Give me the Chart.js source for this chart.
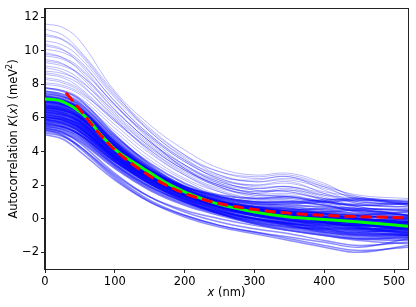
<!DOCTYPE html>
<html>
<head>
<meta charset="utf-8">
<script src="https://cdn.jsdelivr.net/npm/chart.js@4"></script>
<style>
  html, body { margin: 0; padding: 0; background: #fff; }
  #wrap { width: 416px; height: 307px; }
</style>
</head>
<body>
<div id="wrap"><canvas id="grafico" width="416" height="307"></canvas></div>
<script>
// x positions (nm) where the blue curves are sampled
var xs = [0, 25, 50, 100, 150, 200, 250, 300, 350, 400, 450, 520];

// curves that start high (light, sparse)
var upperCurves = [
  [11.6, 11.4, 10.6, 7.6, 5.6, 4.1, 3.0, 2.6, 2.7, 2.1, 1.2, 1.1],
  [11.3, 10.95, 10.0, 7.5, 5.2, 3.7, 2.8, 2.5, 2.6, 2.0, 1.3, 0.9],
  [11.0, 10.7, 9.9, 7.4, 5.4, 3.8, 2.6, 2.2, 2.4, 1.9, 1.4, 1.2],
  [10.6, 10.35, 9.6, 7.2, 5.2, 3.6, 2.5, 2.3, 2.5, 1.7, 1.0, 1.0],
  [10.4, 10.1, 9.2, 6.8, 4.9, 3.4, 2.4, 2.0, 2.1, 1.6, 1.3, 0.8],
  [10.1, 9.9, 9.3, 7.0, 5.0, 3.5, 2.3, 1.7, 1.6, 1.2, 1.1, 1.0],
  [9.9, 9.6, 8.8, 6.5, 4.6, 3.2, 2.3, 2.0, 2.2, 1.5, 0.9, 0.6],
  [9.7, 9.5, 8.9, 6.8, 4.7, 3.0, 2.0, 1.6, 1.7, 1.4, 1.2, 0.8],
  [9.5, 9.25, 8.5, 6.3, 4.5, 3.1, 2.2, 1.8, 1.9, 1.3, 0.7, 0.5],
  [9.3, 9.1, 8.6, 6.7, 4.8, 3.2, 2.1, 1.5, 1.3, 1.0, 0.9, 0.9],
  [9.0, 8.75, 8.1, 6.0, 4.3, 2.9, 2.0, 1.6, 1.8, 1.2, 0.6, 0.3],
  [8.8, 8.65, 8.2, 6.4, 4.6, 3.0, 1.9, 1.3, 1.2, 0.9, 0.8, 0.7],
  [8.6, 8.4, 7.8, 5.9, 4.1, 2.7, 1.8, 1.5, 1.7, 1.1, 0.5, 0.4],
  [8.3, 8.1, 7.6, 5.8, 4.2, 2.9, 1.9, 1.4, 1.4, 1.0, 0.7, 0.2],
  [8.1, 7.95, 7.5, 5.9, 4.0, 2.6, 1.6, 1.1, 1.1, 0.8, 0.6, 0.6],
  [10.9, 10.65, 9.8, 7.3, 5.3, 3.8, 2.8, 2.4, 2.5, 1.9, 1.1, 0.8],
  [10.3, 10.05, 9.4, 7.0, 5.0, 3.5, 2.6, 2.2, 2.3, 1.8, 1.2, 1.1],
  [9.8, 9.6, 9.0, 6.8, 4.9, 3.4, 2.4, 1.9, 1.9, 1.4, 0.9, 0.7],
  [9.4, 9.2, 8.6, 6.5, 4.6, 3.2, 2.2, 1.8, 1.9, 1.5, 1.0, 0.9],
  [9.1, 8.9, 8.3, 6.2, 4.4, 3.0, 2.1, 1.7, 1.6, 1.1, 0.7, 0.4],
  [8.7, 8.5, 8.0, 6.1, 4.3, 2.9, 2.0, 1.5, 1.5, 1.2, 1.0, 0.8],
  [8.4, 8.2, 7.7, 5.8, 4.1, 2.8, 1.9, 1.4, 1.3, 0.9, 0.6, 0.5],
  [8.0, 7.85, 7.4, 5.6, 3.9, 2.6, 1.7, 1.2, 1.1, 0.8, 0.4, 0.2],
  [7.8, 7.65, 7.2, 5.4, 3.7, 2.4, 1.6, 1.2, 1.2, 1.0, 0.8, 0.7],
  [7.6, 7.45, 7.0, 5.2, 3.5, 2.3, 1.4, 1.0, 0.9, 0.6, 0.3, 0.1]
];

// the dense middle of the bundle
var coreCurves = [
  [7.8, 7.6, 7.1, 5.0, 3.2, 1.9, 1.1, 0.7, 0.6, 0.4, 0.2, 0.0],
  [7.6, 7.4, 6.9, 4.9, 3.3, 2.1, 1.3, 0.9, 0.8, 0.7, 0.6, 0.5],
  [7.5, 7.3, 6.7, 4.6, 2.9, 1.7, 0.9, 0.4, 0.1, -0.1, -0.3, -0.6],
  [7.4, 7.25, 6.8, 4.8, 3.1, 1.8, 1.0, 0.6, 0.5, 0.6, 0.5, 0.2],
  [7.3, 7.1, 6.5, 4.4, 2.8, 1.7, 1.0, 0.5, 0.2, -0.2, -0.5, -0.7],
  [7.2, 7.05, 6.6, 4.7, 3.0, 1.7, 0.8, 0.3, 0.0, 0.0, 0.1, 0.1],
  [7.1, 6.9, 6.4, 4.3, 2.7, 1.6, 0.9, 0.5, 0.3, 0.1, -0.1, -0.4],
  [7.0, 6.8, 6.3, 4.4, 2.9, 1.9, 1.3, 1.0, 1.0, 0.8, 0.4, 0.2],
  [6.9, 6.7, 6.2, 4.2, 2.6, 1.5, 0.8, 0.3, 0.0, -0.3, -0.6, -0.8],
  [6.8, 6.65, 6.2, 4.3, 2.7, 1.5, 0.7, 0.2, -0.1, -0.2, -0.2, -0.3],
  [6.7, 6.5, 6.0, 4.1, 2.6, 1.6, 1.0, 0.7, 0.6, 0.3, 0.0, -0.2],
  [6.6, 6.45, 6.0, 4.2, 2.8, 1.8, 1.2, 0.9, 0.9, 1.0, 1.1, 0.9],
  [6.5, 6.3, 5.8, 3.9, 2.4, 1.4, 0.7, 0.3, 0.1, -0.2, -0.5, -0.9],
  [6.4, 6.25, 5.8, 4.0, 2.5, 1.4, 0.7, 0.2, -0.2, -0.5, -0.6, -0.6],
  [6.3, 6.15, 5.7, 3.9, 2.5, 1.5, 0.9, 0.6, 0.4, 0.1, -0.2, -0.3],
  [6.2, 6.0, 5.5, 3.7, 2.3, 1.3, 0.6, 0.2, 0.0, -0.1, -0.3, -0.5],
  [6.1, 5.95, 5.6, 3.9, 2.5, 1.5, 0.8, 0.3, 0.1, 0.0, 0.0, -0.1],
  [6.0, 5.85, 5.4, 3.6, 2.2, 1.2, 0.5, 0.0, -0.3, -0.6, -0.9, -1.0],
  [5.9, 5.75, 5.3, 3.6, 2.3, 1.4, 0.8, 0.4, 0.3, 0.2, 0.0, -0.2],
  [5.8, 5.65, 5.2, 3.5, 2.2, 1.2, 0.5, 0.0, -0.3, -0.4, -0.4, -0.6],
  [5.7, 5.55, 5.1, 3.4, 2.1, 1.1, 0.4, -0.1, -0.4, -0.7, -1.0, -1.1],
  [5.6, 5.45, 5.0, 3.4, 2.2, 1.3, 0.7, 0.4, 0.2, -0.1, -0.4, -0.5],
  [5.5, 5.35, 4.9, 3.2, 1.9, 1.0, 0.3, -0.2, -0.5, -0.6, -0.7, -0.8],
  [7.25, 7.05, 6.55, 4.55, 2.95, 1.8, 1.05, 0.6, 0.35, 0.2, 0.0, -0.2],
  [6.95, 6.8, 6.3, 4.35, 2.8, 1.65, 0.95, 0.5, 0.25, 0.0, -0.2, -0.35],
  [6.65, 6.5, 6.05, 4.15, 2.65, 1.55, 0.85, 0.4, 0.2, 0.05, -0.1, -0.3],
  [6.35, 6.2, 5.75, 3.95, 2.5, 1.45, 0.75, 0.35, 0.15, -0.05, -0.25, -0.4],
  [6.05, 5.9, 5.45, 3.7, 2.35, 1.35, 0.7, 0.3, 0.1, -0.1, -0.3, -0.45],
  [7.15, 7.0, 6.5, 4.6, 3.05, 1.95, 1.2, 0.8, 0.7, 0.5, 0.3, 0.1],
  [6.75, 6.6, 6.1, 4.25, 2.75, 1.7, 1.05, 0.65, 0.45, 0.3, 0.15, 0.0],
  [7.3, 7.15, 6.6, 4.5, 2.8, 1.6, 0.9, 0.5, 0.4, 0.3, 0.0, -0.3],
  [7.1, 6.95, 6.5, 4.5, 2.9, 1.8, 1.1, 0.7, 0.4, 0.1, -0.1, 0.0],
  [7.0, 6.85, 6.35, 4.3, 2.7, 1.6, 0.9, 0.4, 0.0, -0.3, -0.4, -0.5],
  [6.9, 6.75, 6.3, 4.4, 2.9, 1.9, 1.3, 1.0, 1.0, 1.1, 1.2, 1.0],
  [6.8, 6.6, 6.1, 4.1, 2.6, 1.5, 0.8, 0.4, 0.2, 0.0, -0.3, -0.6],
  [6.7, 6.55, 6.1, 4.2, 2.7, 1.7, 1.0, 0.6, 0.3, 0.1, 0.2, 0.4],
  [6.6, 6.4, 5.9, 4.0, 2.5, 1.5, 0.8, 0.3, -0.1, -0.4, -0.7, -1.0],
  [6.5, 6.35, 5.9, 4.1, 2.6, 1.6, 1.0, 0.7, 0.5, 0.3, 0.2, -0.1],
  [6.4, 6.2, 5.7, 3.8, 2.4, 1.4, 0.8, 0.4, 0.1, -0.2, -0.4, -0.4],
  [6.3, 6.1, 5.6, 3.8, 2.4, 1.4, 0.7, 0.2, -0.1, -0.2, -0.1, -0.2],
  [6.2, 6.05, 5.6, 3.8, 2.5, 1.5, 0.9, 0.5, 0.3, 0.0, -0.3, -0.7],
  [6.1, 5.9, 5.4, 3.6, 2.2, 1.2, 0.5, 0.0, -0.4, -0.8, -1.0, -1.0],
  [6.0, 5.85, 5.4, 3.7, 2.4, 1.5, 0.9, 0.5, 0.2, -0.2, -0.6, -0.9],
  [5.9, 5.7, 5.2, 3.5, 2.1, 1.1, 0.4, 0.0, -0.2, -0.3, -0.4, -0.7],
  [5.8, 5.65, 5.2, 3.5, 2.1, 1.1, 0.3, -0.3, -0.7, -1.0, -1.2, -1.1],
  [5.7, 5.5, 5.0, 3.3, 2.0, 1.0, 0.3, -0.2, -0.5, -0.8, -1.1, -1.2],
  [5.6, 5.45, 5.0, 3.4, 2.1, 1.2, 0.6, 0.2, -0.1, -0.4, -0.6, -0.5],
  [5.5, 5.3, 4.8, 3.2, 1.9, 1.0, 0.4, 0.0, -0.3, -0.5, -0.8, -1.0],
  [5.4, 5.2, 4.7, 3.1, 1.8, 0.9, 0.3, -0.1, -0.4, -0.7, -0.9, -0.9],
  [5.3, 5.1, 4.6, 3.0, 1.7, 0.8, 0.2, -0.3, -0.6, -0.9, -1.2, -1.3],
  [7.0, 6.8, 6.3, 4.4, 2.9, 1.9, 1.4, 1.2, 1.3, 1.0, 0.8, 0.9],
  [6.5, 6.3, 5.8, 4.0, 2.6, 1.6, 1.0, 0.6, 0.4, 0.4, 0.5, 0.2],
  [6.2, 6.0, 5.5, 3.7, 2.3, 1.3, 0.6, 0.1, -0.3, -0.6, -0.8, -0.6],
  [5.9, 5.75, 5.3, 3.6, 2.3, 1.4, 0.8, 0.5, 0.3, -0.1, -0.5, -0.8],
  [6.6, 6.45, 6.0, 4.2, 2.7, 1.6, 0.9, 0.5, 0.2, -0.1, -0.3, -0.2]
];

// curves at the bottom of the bundle
var lowerCurves = [
  [5.4, 5.15, 4.5, 2.7, 1.3, 0.4, -0.2, -0.6, -0.9, -1.3, -1.6, -1.4],
  [5.3, 5.0, 4.3, 2.5, 1.1, 0.2, -0.4, -0.8, -1.2, -1.6, -1.9, -1.7],
  [5.2, 4.95, 4.2, 2.4, 1.0, 0.1, -0.5, -0.9, -1.3, -1.7, -2.0, -1.6],
  [5.1, 4.9, 4.3, 2.6, 1.3, 0.5, 0.0, -0.4, -0.7, -1.0, -1.3, -1.5],
  [5.0, 4.75, 4.0, 2.3, 1.0, 0.2, -0.4, -0.8, -1.1, -1.4, -1.7, -1.2]
];

// mean curve (green)
var greenX = [0, 20, 40, 60, 80, 100, 125, 150, 175, 200, 250, 300, 350, 400, 450, 520];
var greenY = [7.13, 7.05, 6.65, 6.0, 5.0, 4.15, 3.4, 2.75, 2.1, 1.6, 0.85, 0.4, 0.1, -0.05, -0.2, -0.45];

// fit (red dashed)
var redX = [30, 50, 75, 100, 150, 200, 250, 300, 350, 400, 450, 520];
var redY = [7.5, 6.5, 5.2, 4.1, 2.55, 1.5, 0.9, 0.55, 0.33, 0.2, 0.12, 0.05];

var xTicks = [0, 100, 200, 300, 400, 500];
var yTicks = [-2, 0, 2, 4, 6, 8, 10, 12];

var fonte = 'DejaVu Sans';

function pontos(xv, yv) {
    var p = [];
    for (let i = 0; i < xv.length; i++) {
        p.push({ x: xv[i], y: yv[i] });
    }
    return p;
}

var datasets = [];

datasets.push({
    data: pontos(redX, redY),
    borderColor: '#ff0000',
    borderWidth: 3,
    borderDash: [11, 5],
    cubicInterpolationMode: 'monotone',
    pointRadius: 0
});

datasets.push({
    data: pontos(greenX, greenY),
    borderColor: '#00ff00',
    borderWidth: 3,
    cubicInterpolationMode: 'monotone',
    pointRadius: 0
});

function addBlue(lista, cor, largura) {
    for (let i = 0; i < lista.length; i++) {
        datasets.push({
            data: pontos(xs, lista[i]),
            borderColor: cor,
            borderWidth: largura,
            tension: 0.4,
            pointRadius: 0
        });
    }
}

addBlue(upperCurves, 'rgba(0,0,255,0.28)', 1);
addBlue(coreCurves, 'rgba(0,0,255,0.5)', 1.8);
addBlue(lowerCurves, 'rgba(0,0,255,0.45)', 1.5);

// box round the plot + axis titles with italic parts
const moldura = {
    id: 'moldura',
    afterDraw(chart) {
        const ctx = chart.ctx;
        const a = chart.chartArea;
        ctx.save();
        ctx.strokeStyle = '#222';
        ctx.lineWidth = 1;
        ctx.strokeRect(Math.round(a.left) - 0.5, Math.round(a.top) - 0.5,
            Math.round(a.right - a.left) + 1, Math.round(a.bottom - a.top) + 1);

        ctx.fillStyle = '#000';
        ctx.textBaseline = 'alphabetic';

        function partes(lista) {
            let w = 0;
            lista.forEach(function (p) {
                ctx.font = (p.i ? 'italic ' : '') + p.s + 'px "' + fonte + '"';
                p.w = ctx.measureText(p.t).width;
                w += p.w;
            });
            return w;
        }
        function escreve(lista, x0) {
            let x = x0;
            lista.forEach(function (p) {
                ctx.font = (p.i ? 'italic ' : '') + p.s + 'px "' + fonte + '"';
                ctx.fillText(p.t, x, p.up ? -5 : 0);
                x += p.w;
            });
        }

        // y title
        const ty = [
            { t: 'Autocorrelation ', s: 11.5 },
            { t: 'K', s: 11.5, i: true },
            { t: '(', s: 11.5 },
            { t: 'x', s: 11.5, i: true },
            { t: ') (meV', s: 11.5 },
            { t: '2', s: 8, up: true },
            { t: ')', s: 11.5 }
        ];
        const wy = partes(ty);
        ctx.save();
        ctx.translate(17, (a.top + a.bottom) / 2);
        ctx.rotate(-Math.PI / 2);
        escreve(ty, -wy / 2);
        ctx.restore();

        // x title
        const tx = [
            { t: 'x', s: 11.5, i: true },
            { t: ' (nm)', s: 11.5 }
        ];
        const wx = partes(tx);
        ctx.save();
        ctx.translate((a.left + a.right) / 2, 296);
        escreve(tx, -wx / 2);
        ctx.restore();

        ctx.restore();
    }
};

function rotulo(v) {
    return v < 0 ? '\u2212' + Math.abs(v) : '' + v;
}

const config = {
    type: 'line',
    data: { datasets: datasets },
    options: {
        responsive: false,
        animation: false,
        layout: { padding: { left: 0, right: 8, top: 5, bottom: 0 } },
        plugins: {
            legend: { display: false },
            tooltip: { enabled: false }
        },
        scales: {
            x: {
                type: 'linear',
                min: 0,
                max: 520,
                afterBuildTicks: function (s) { s.ticks = xTicks.map(v => ({ value: v })); },
                afterFit: function (s) { s.height = 38; },
                ticks: { color: '#000', font: { family: fonte, size: 11.5 }, padding: 2, callback: rotulo, maxRotation: 0 },
                grid: { display: true, drawOnChartArea: false, drawTicks: true, tickLength: 4, color: '#222' },
                border: { display: true, color: '#222' }
            },
            y: {
                type: 'linear',
                min: -3,
                max: 12.5,
                afterBuildTicks: function (s) { s.ticks = yTicks.map(v => ({ value: v })); },
                afterFit: function (s) { s.width = 45; },
                ticks: { color: '#000', font: { family: fonte, size: 11.5 }, padding: 2, callback: rotulo },
                grid: { display: true, drawOnChartArea: false, drawTicks: true, tickLength: 4, color: '#222' },
                border: { display: true, color: '#222' }
            }
        }
    },
    plugins: [moldura]
};

const grafico = new Chart(document.getElementById('grafico'), config);
</script>
</body>
</html>
